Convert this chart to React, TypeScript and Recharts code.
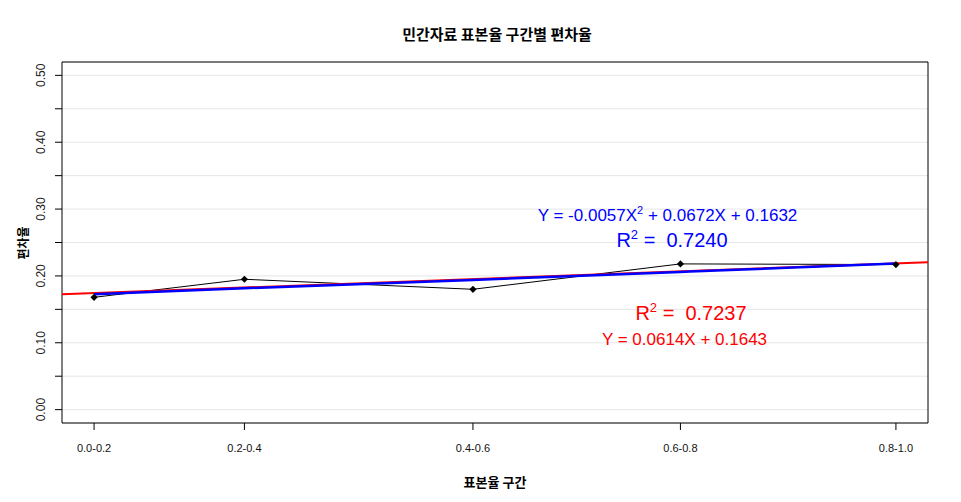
import React from "react";
import {
	CartesianGrid,
	ComposedChart,
	Customized,
	Line,
	ReferenceArea,
	XAxis,
	YAxis,
} from "recharts";

// 표본율 구간 (x positions are the bin centres used for plotting)
const categories = ["0.0-0.2", "0.2-0.4", "0.4-0.6", "0.6-0.8", "0.8-1.0"];
const binCenters = [0.1, 0.25, 0.478, 0.685, 0.9];

// 편차율 observed
const deviationRates = [0.168, 0.195, 0.18, 0.218, 0.217];

// fitted curves
const quadraticFit = [0.1725, 0.1815, 0.194, 0.206, 0.2186];
const linearFitX = [0.068, 0.932];
const linearFitY = [0.1726, 0.2205];

const yTicks = [0, 0.05, 0.1, 0.15, 0.2, 0.25, 0.3, 0.35, 0.4, 0.45, 0.5];

const X_DOMAIN: [number, number] = [0.068, 0.932];
const Y_DOMAIN: [number, number] = [-0.02, 0.52];

const observed = binCenters.map((x, i) => ({ x, y: deviationRates[i] }));
const quadratic = binCenters.map((x, i) => ({ x, y: quadraticFit[i] }));
const linear = linearFitX.map((x, i) => ({ x, y: linearFitY[i] }));

const SANS = "'Liberation Sans', Arial, sans-serif";
const KR = "'Noto Sans CJK KR', sans-serif";

const Diamond = (props: any) => {
	const { cx, cy, index } = props;
	const r = 3.6;
	return (
		<path
			key={`d-${index}`}
			d={`M${cx},${cy - r}L${cx + r},${cy}L${cx},${cy + r}L${cx - r},${cy}Z`}
			fill="#000"
		/>
	);
};

const YTick = (props: any) => {
	const { x, y, payload } = props;
	const v = payload.value;
	if (Math.abs(v * 10 - Math.round(v * 10)) > 1e-6) return <g />;
	return (
		<text
			transform={`translate(${x - 8},${y}) rotate(-90)`}
			textAnchor="middle"
			fontSize={12}
			fontFamily={SANS}
			fill="#222"
		>
			{v.toFixed(2)}
		</text>
	);
};

const Annotations = () => (
	<g>
		<text
			x={489}
			y={25}
			textAnchor="middle"
			dominantBaseline="central"
			fontSize={15}
			fontWeight="bold"
			fontFamily={KR}
			fill="#000"
		>
			민간자료 표본율 구간별 편차율
		</text>
		<text
			x={487}
			y={473}
			textAnchor="middle"
			dominantBaseline="central"
			fontSize={13}
			fontWeight="bold"
			fontFamily={KR}
			fill="#000"
		>
			표본율 구간
		</text>
		<text
			transform="translate(14,235) rotate(-90)"
			textAnchor="middle"
			dominantBaseline="central"
			fontSize={12}
			fontWeight="bold"
			fontFamily={KR}
			fill="#000"
		>
			편차율
		</text>

		<text
			x={659.5}
			y={213}
			textAnchor="middle"
			fontSize={17}
			fontFamily={SANS}
			fill="#0000ff"
			style={{ whiteSpace: "pre" }}
		>
			Y = -0.0057X
			<tspan dy={-7} fontSize={11}>
				2
			</tspan>
			<tspan dy={7}> + 0.0672X + 0.1632</tspan>
		</text>
		<text
			x={664}
			y={239}
			textAnchor="middle"
			fontSize={20}
			fontFamily={SANS}
			fill="#0000ff"
			style={{ whiteSpace: "pre" }}
		>
			R
			<tspan dy={-8} fontSize={13}>
				2
			</tspan>
			<tspan dy={8}> =  0.7240</tspan>
		</text>

		<text
			x={683}
			y={312}
			textAnchor="middle"
			fontSize={20}
			fontFamily={SANS}
			fill="#ff0000"
			style={{ whiteSpace: "pre" }}
		>
			R
			<tspan dy={-8} fontSize={13}>
				2
			</tspan>
			<tspan dy={8}> =  0.7237</tspan>
		</text>
		<text
			x={676.5}
			y={337}
			textAnchor="middle"
			fontSize={17}
			fontFamily={SANS}
			fill="#ff0000"
			style={{ whiteSpace: "pre" }}
		>
			Y = 0.0614X + 0.1643
		</text>
	</g>
);

export default function App() {
	return (
		<div style={{ width: 953, height: 494, background: "#fff" }}>
			<ComposedChart
				width={953}
				height={494}
				margin={{ top: 54, right: 33, left: 0, bottom: 0 }}
			>
				<CartesianGrid vertical={false} stroke="#e6e6e6" />
				<XAxis
					dataKey="x"
					type="number"
					domain={X_DOMAIN}
					allowDataOverflow
					ticks={binCenters}
					interval={0}
					tickFormatter={(v) => categories[binCenters.indexOf(v)]}
					tick={{ fontSize: 11, fill: "#111", fontFamily: SANS }}
					tickSize={7}
					tickMargin={14}
					tickLine={{ stroke: "#000" }}
					axisLine={false}
					height={79}
				/>
				<YAxis
					type="number"
					domain={Y_DOMAIN}
					allowDataOverflow
					ticks={yTicks}
					interval={0}
					tick={<YTick />}
					tickSize={7}
					tickMargin={2}
					tickLine={{ stroke: "#000" }}
					axisLine={false}
					width={54}
				/>
				<ReferenceArea
					x1={X_DOMAIN[0]}
					x2={X_DOMAIN[1]}
					y1={Y_DOMAIN[0]}
					y2={Y_DOMAIN[1]}
					fill="none"
					fillOpacity={0}
					stroke="#000"
					strokeWidth={1}
					ifOverflow="visible"
				/>
				<Line
					data={observed}
					dataKey="y"
					type="linear"
					stroke="#000"
					strokeWidth={1}
					dot={<Diamond />}
					activeDot={false}
					isAnimationActive={false}
				/>
				<Line
					data={linear}
					dataKey="y"
					type="linear"
					stroke="#ff0000"
					strokeWidth={2}
					dot={false}
					activeDot={false}
					isAnimationActive={false}
				/>
				<Line
					data={quadratic}
					dataKey="y"
					type="monotone"
					stroke="#0000ff"
					strokeWidth={2.5}
					dot={false}
					activeDot={false}
					isAnimationActive={false}
				/>
				<Customized component={Annotations} />
			</ComposedChart>
		</div>
	);
}
